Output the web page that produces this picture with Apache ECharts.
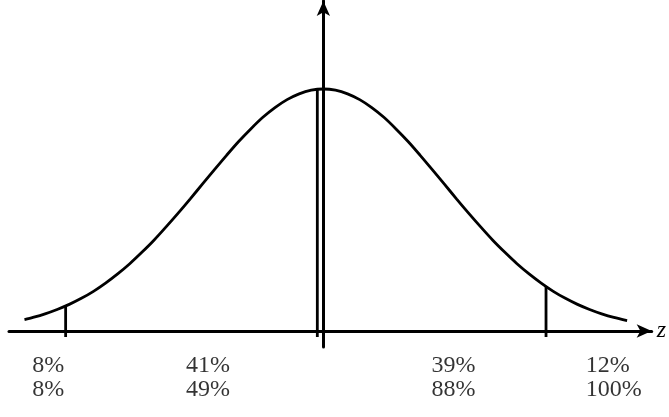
<!DOCTYPE html>
<html>
<head>
<meta charset="utf-8">
<script src="https://cdn.jsdelivr.net/npm/echarts@6/dist/echarts.min.js"></script>
<style>html,body{margin:0;padding:0;background:#fff}#c{width:669px;height:417px}</style>
</head>
<body>
<div id="c"></div>
<script>
// Curve samples (z in standard-deviation units, height relative to peak)
var curveZ = [-2.47,-2.4,-2.3,-2.2,-2.1,-2.0,-1.9,-1.8,-1.7,-1.6,-1.5,-1.4,-1.3,-1.2,-1.1,-1.0,-0.9,-0.8,-0.7,-0.6,-0.5,-0.4,-0.3,-0.2,-0.1,0,
              0.1,0.2,0.3,0.4,0.5,0.6,0.7,0.8,0.9,1.0,1.1,1.2,1.3,1.4,1.5,1.6,1.7,1.8,1.9,2.0,2.1,2.2,2.3,2.4,2.51];
var curveH = [0.047,0.056,0.071,0.089,0.110,0.135,0.164,0.198,0.236,0.278,0.325,0.375,0.430,0.487,0.546,0.607,0.667,0.726,0.783,0.835,0.883,0.923,0.956,0.980,0.995,1.000,
              0.995,0.980,0.956,0.923,0.883,0.835,0.783,0.726,0.667,0.607,0.546,0.487,0.430,0.375,0.325,0.278,0.236,0.198,0.164,0.135,0.110,0.089,0.071,0.056,0.043];
// Cut points (vertical lines) and the curve height where they stop
var cutZ = [-2.13, -0.05, 1.84];
var cutTop = [0.103, 0.999, 0.182];
// Labels
var bandShare = ['8%','41%','39%','12%'];
var cumulative = ['8%','49%','88%','100%'];
var labelZ = [-2.41, -1.139, 0.89, 2.165];

var FONT = "'Liberation Serif', 'Times New Roman', serif";
var chart = echarts.init(document.getElementById('c'), null, {renderer:'canvas'});
var curveData = curveZ.map(function(z,i){return [z, curveH[i]];});
var series = [{
  type:'line', data: curveData, smooth: 0.3, symbol:'none',
  lineStyle:{color:'#000', width:2.8}, silent:true
}];
cutZ.forEach(function(z,i){
  series.push({type:'line', data:[[z,-0.025],[z,cutTop[i]]], symbol:'none',
    lineStyle:{color:'#000', width:2.8}, silent:true});
});
var lblStyle = {show:true, position:'right', distance:0, align:'left', verticalAlign:'middle',
  fontFamily:FONT, fontSize:24, color:'#000', formatter:function(p){return p.data.t;}};
series.push({type:'scatter', clip:false, symbolSize:1, itemStyle:{color:'rgba(0,0,0,0)'}, silent:true,
  data: bandShare.map(function(t,i){return {value:[labelZ[i], -0.145], t:t};}), label:lblStyle});
series.push({type:'scatter', clip:false, symbolSize:1, itemStyle:{color:'rgba(0,0,0,0)'}, silent:true,
  data: cumulative.map(function(t,i){return {value:[labelZ[i], -0.244], t:t};}), label:lblStyle});

chart.setOption({
  animation:false,
  grid:{left:9, right:12, top:1, bottom:70},
  xAxis:{type:'value', min:-2.598, max:2.713, name:'z', nameLocation:'end', nameGap:5,
    nameTextStyle:{fontFamily:FONT, fontStyle:'italic', fontSize:24, color:'#000', verticalAlign:'middle'},
    axisLine:{onZero:true, symbol:['none','arrow'], symbolSize:[10,15], lineStyle:{color:'#000', width:3}},
    axisTick:{show:false}, axisLabel:{show:false}, splitLine:{show:false}},
  yAxis:{type:'value', min:-0.0661, max:1.3636,
    axisLine:{onZero:true, symbol:['none','arrow'], symbolSize:[10,15], lineStyle:{color:'#000', width:3}},
    axisTick:{show:false}, axisLabel:{show:false}, splitLine:{show:false}},
  series: series
});
</script>
</body>
</html>
